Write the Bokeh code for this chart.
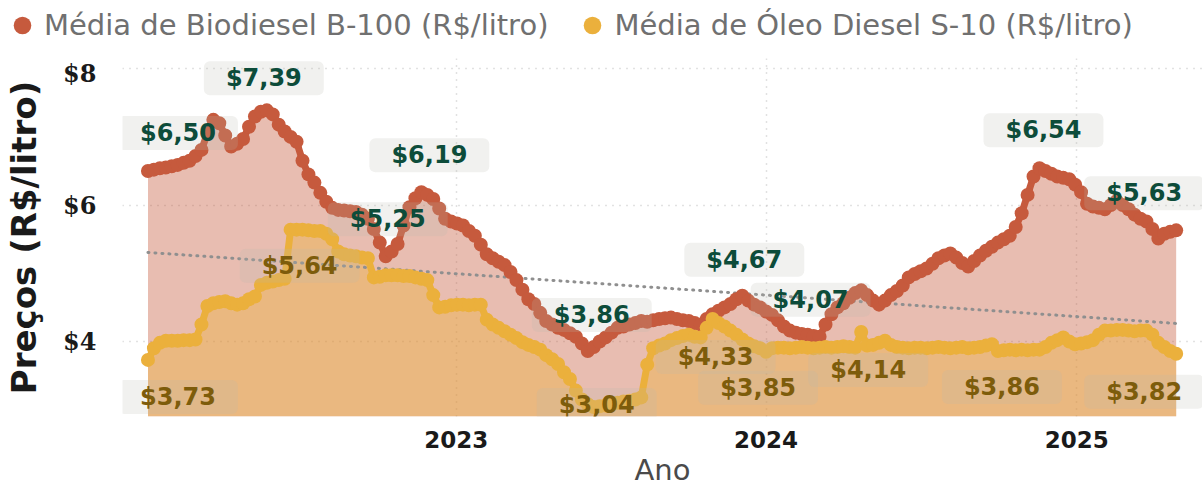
import numpy as np
import pandas as pd
from bokeh.plotting import figure
from bokeh.layouts import column
from bokeh.models import (Label, Legend, LegendItem, FixedTicker, NumeralTickFormatter,
                          DatetimeTickFormatter, Range1d)
from bokeh.embed import file_html
from bokeh.resources import INLINE

# ---------------- data (weekly averages) ----------------
start_date = "2022-01-03"

biodiesel = [
    6.50, 6.52, 6.54, 6.55, 6.57, 6.59, 6.62, 6.65, 6.72, 6.81,
    7.05, 7.25, 7.20, 7.02, 6.86, 6.90, 6.97, 7.15, 7.30, 7.37,
    7.39, 7.33, 7.18, 7.08, 7.00, 6.93, 6.65, 6.45, 6.33, 6.18,
    6.05, 5.96, 5.93, 5.92, 5.91, 5.90, 5.86, 5.80, 5.65, 5.45,
    5.25, 5.32, 5.43, 5.70, 5.97, 6.10, 6.19, 6.15, 6.09, 5.95,
    5.80, 5.76, 5.73, 5.70, 5.62, 5.55, 5.42, 5.28, 5.22, 5.17,
    5.12, 5.02, 4.90, 4.76, 4.62, 4.55, 4.42, 4.30, 4.25, 4.20,
    4.17, 4.12, 4.07, 3.97, 3.86, 3.92, 4.00, 4.06, 4.13, 4.20,
    4.22, 4.25, 4.27, 4.30, 4.29, 4.31, 4.33, 4.34, 4.35, 4.33,
    4.31, 4.30, 4.27, 4.25, 4.33, 4.40, 4.45, 4.50, 4.55, 4.62,
    4.67, 4.60, 4.54, 4.50, 4.44, 4.39, 4.31, 4.22, 4.16, 4.13,
    4.11, 4.10, 4.08, 4.07, 4.25, 4.40, 4.50, 4.56, 4.64, 4.71,
    4.75, 4.68, 4.60, 4.54, 4.60, 4.68, 4.74, 4.82, 4.94, 4.99,
    5.03, 5.07, 5.14, 5.22, 5.26, 5.29, 5.23, 5.15, 5.10, 5.18,
    5.26, 5.33, 5.39, 5.45, 5.50, 5.55, 5.68, 5.88, 6.15, 6.42,
    6.54, 6.50, 6.46, 6.42, 6.40, 6.38, 6.30, 6.19, 6.02, 5.98,
    5.96, 5.94, 6.00, 6.06, 6.00, 5.94, 5.86, 5.80, 5.76, 5.65,
    5.51, 5.58, 5.61, 5.63,
]

diesel = [
    3.73, 3.90, 3.98, 4.01, 4.01, 4.01, 4.02, 4.02, 4.03, 4.25,
    4.52, 4.56, 4.58, 4.59, 4.56, 4.54, 4.56, 4.62, 4.66, 4.83,
    4.86, 4.88, 4.90, 4.92, 5.64, 5.64, 5.64, 5.63, 5.62, 5.62,
    5.58, 5.50, 5.32, 5.28, 5.26, 5.25, 5.23, 5.22, 4.94, 4.95,
    4.97, 4.97, 4.97, 4.96, 4.96, 4.94, 4.92, 4.90, 4.68, 4.50,
    4.51, 4.53, 4.54, 4.54, 4.53, 4.54, 4.54, 4.32, 4.25, 4.20,
    4.15, 4.10, 4.05, 3.99, 3.95, 3.92, 3.88, 3.80, 3.74, 3.67,
    3.55, 3.45, 3.28, 3.15, 3.08, 3.04, 3.05, 3.06, 3.08, 3.10,
    3.12, 3.13, 3.15, 3.18, 3.66, 3.90, 3.94, 3.97, 4.02, 4.05,
    4.08, 4.10, 4.07, 4.06, 4.20, 4.33, 4.27, 4.22, 4.16, 4.10,
    4.03, 3.97, 3.93, 3.90, 3.85, 3.90, 3.91, 3.91, 3.90, 3.91,
    3.92, 3.91, 3.90, 3.91, 3.92, 3.91, 3.92, 3.93, 3.92, 3.91,
    4.14, 3.94, 3.95, 3.98, 4.01, 3.95, 3.92, 3.91, 3.90, 3.91,
    3.91, 3.90, 3.91, 3.92, 3.91, 3.90, 3.91, 3.92, 3.90, 3.91,
    3.92, 3.94, 3.96, 3.86, 3.87, 3.88, 3.87, 3.88, 3.87, 3.88,
    3.88, 3.92, 3.98, 4.02, 4.06, 4.00, 3.96, 3.97, 3.99, 4.02,
    4.10, 4.16, 4.16, 4.17, 4.17, 4.16, 4.15, 4.16, 4.16, 4.10,
    3.98, 3.92, 3.86, 3.82,
]

series_names = ["Média de Biodiesel B-100 (R$/litro)", "Média de Óleo Diesel S-10 (R$/litro)"]
year_ticks = ["2023-01-01", "2024-01-01", "2025-01-01"]
y_ticks = [4, 6, 8]

# indices of the highlighted (labelled) weeks
bio_label_idx = [0, 20, 40, 46, 74, 100, 113, 150, 173]
diesel_label_idx = [0, 24, 75, 95, 104, 120, 143, 173]

# ---------------- styles / label placement (screen px offsets) ----------------
bio_offsets = [(30, 38), (-3, 32), (2, 37), (8, 37), (4, 36), (2, 36), (-9, 37), (4, 38), (-32, 37)]
diesel_offsets = [(30, -37), (9, -36), (3, 2), (3, -38), (-8, -36), (7, -38), (4, -36), (-32, -38)]

BIO = "#C65A3D"
DSL = "#EBB03C"
y_base = 2.9

dates = pd.date_range(start_date, periods=len(biodiesel), freq="7D")
t_ms = dates.values.astype("datetime64[ms]").astype(np.int64).astype(float)

# ---------------- legend strip (top) ----------------
lg = figure(width=1202, height=58, output_backend="svg", toolbar_location=None,
            x_axis_location=None, y_axis_location=None,
            x_range=Range1d(0, 1), y_range=Range1d(0, 1),
            min_border_left=0, min_border_right=0, min_border_top=0, min_border_bottom=0)
lg.frame_align = False
lg.outline_line_color = None
lg.grid.visible = False
# legend proxies: the series themselves, outside this strip's (0..1) ranges
lg_bio = lg.scatter(t_ms, biodiesel, fill_color=BIO, line_color=None)
lg_dsl = lg.scatter(t_ms, diesel, fill_color=DSL, line_color=None)
legend = Legend(items=[LegendItem(label=series_names[0], renderers=[lg_bio]),
                       LegendItem(label=series_names[1], renderers=[lg_dsl])],
                orientation="horizontal", location="top_left",
                glyph_width=44, glyph_height=50, label_standoff=0, spacing=22,
                padding=0, margin=0,
                label_text_font="DejaVu Sans", label_text_font_size="29px",
                label_text_color="#707070",
                border_line_color=None, background_fill_alpha=0)
lg.add_layout(legend, "center")

# ---------------- main chart ----------------
p = figure(width=1202, height=431, output_backend="svg", toolbar_location=None,
           x_axis_type="datetime",
           x_range=Range1d(dates[0] - pd.Timedelta(days=30), dates[-1] + pd.Timedelta(days=31)),
           y_range=Range1d(y_base, 8.15),
           min_border_left=122, min_border_right=0, min_border_top=0, min_border_bottom=69)
p.frame_align = False
p.outline_line_color = None
p.background_fill_color = "white"
p.border_fill_color = "white"

# areas
p.varea(x=dates, y1=y_base, y2=biodiesel, fill_color=BIO, fill_alpha=0.4)
p.varea(x=dates, y1=y_base, y2=diesel, fill_color=DSL, fill_alpha=0.42)

# trend line (linear fit over both measures)
tt = np.concatenate([t_ms, t_ms])
vv = np.concatenate([np.array(biodiesel), np.array(diesel)])
coef = np.polyfit(tt, vv, 1)
trend_x = [t_ms[0], t_ms[-1]]
trend_y = [coef[0] * t_ms[0] + coef[1], coef[0] * t_ms[-1] + coef[1]]
p.line(trend_x, trend_y, line_color="#8f8f8f", line_width=3, line_dash="1 6", line_cap="round")

# series lines + dots
p.line(dates, biodiesel, line_color=BIO, line_width=7)
p.scatter(dates, biodiesel, size=14, fill_color=BIO, line_color=None)
p.line(dates, diesel, line_color=DSL, line_width=7)
p.scatter(dates, diesel, size=14, fill_color=DSL, line_color=None)


def fmt(v):
    return ("$%.2f" % v).replace(".", ",")


def add_labels(vals, idxs, offsets, color):
    for i, (dx, dy) in zip(idxs, offsets):
        p.add_layout(Label(x=t_ms[i], y=vals[i], x_offset=dx, y_offset=dy, text=fmt(vals[i]),
                           text_align="center", text_baseline="middle",
                           text_font="DejaVu Sans", text_font_style="bold", text_font_size="24px",
                           text_color=color,
                           background_fill_color="#B9B9B0", background_fill_alpha=0.2,
                           padding=dict(left=22, right=22, top=3, bottom=3), border_radius=6))


add_labels(biodiesel, bio_label_idx, bio_offsets, "#0D4C3A")
add_labels(diesel, diesel_label_idx, diesel_offsets, "#7D5C0B")

# axes
p.yaxis.ticker = FixedTicker(ticks=y_ticks)
p.yaxis.formatter = NumeralTickFormatter(format="$0")
p.yaxis.axis_label = "Preços (R$/litro)"
p.yaxis.axis_label_text_font = "DejaVu Sans"
p.yaxis.axis_label_text_font_style = "bold"
p.yaxis.axis_label_text_font_size = "34px"
p.yaxis.axis_label_text_color = "#1a1a1a"
p.yaxis.axis_label_standoff = 16
p.yaxis.major_label_text_font = "DejaVu Serif"
p.yaxis.major_label_text_font_style = "bold"
p.yaxis.major_label_text_font_size = "24px"
p.yaxis.major_label_text_color = "#1a1a1a"
p.yaxis.major_label_standoff = 20
p.yaxis.axis_line_color = None
p.yaxis.major_tick_line_color = None
p.yaxis.minor_tick_line_color = None

p.xaxis.ticker = FixedTicker(ticks=[pd.Timestamp(t).value / 1e6 for t in year_ticks])
p.xaxis.formatter = DatetimeTickFormatter(years="%Y", months="%Y", days="%Y", hours="%Y")
p.xaxis.axis_label = "Ano"
p.xaxis.axis_label_text_font = "DejaVu Sans"
p.xaxis.axis_label_text_font_style = "normal"
p.xaxis.axis_label_text_font_size = "29px"
p.xaxis.axis_label_text_color = "#4a4a4a"
p.xaxis.axis_label_standoff = 2
p.xaxis.major_label_text_font = "DejaVu Sans"
p.xaxis.major_label_text_font_style = "bold"
p.xaxis.major_label_text_font_size = "23px"
p.xaxis.major_label_text_color = "#1a1a1a"
p.xaxis.major_label_standoff = 8
p.xaxis.axis_line_color = None
p.xaxis.major_tick_line_color = None
p.xaxis.minor_tick_line_color = None

for g in (p.xgrid, p.ygrid):
    g.grid_line_color = "#c4c4c4"
    g.grid_line_dash = "1 6"
    g.grid_line_width = 1.5

layout = column(lg, p, spacing=0)
open("out.html", "w").write(file_html(layout, INLINE))
